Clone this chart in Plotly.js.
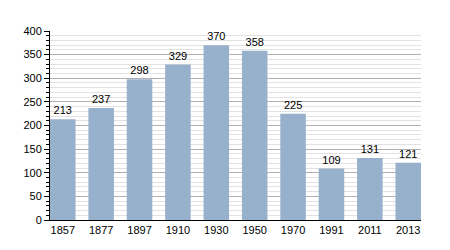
<!DOCTYPE html>
<html><head><meta charset="utf-8">
<script src="https://cdn.plot.ly/plotly-3.0.1.min.js"></script>
<style>html,body{margin:0;padding:0;background:#fff}</style>
</head><body><div id="chart" style="width:450px;height:250px"></div>
<script>
const years = ["1857","1877","1897","1910","1930","1950","1970","1991","2011","2013"];
const population = [213,237,298,329,370,358,225,109,131,121];

Plotly.newPlot('chart', [{
  type: 'bar',
  x: years,
  y: population,
  text: population.map(String),
  textposition: 'outside',
  textfont: {family: 'Liberation Sans, Arial, sans-serif', size: 11, color: '#000'},
  cliponaxis: false,
  marker: {color: '#97b0cc'},
  hoverinfo: 'none'
}], {
  width: 450, height: 250,
  margin: {l: 50, r: 29, t: 31, b: 30},
  paper_bgcolor: '#fff', plot_bgcolor: '#fff',
  bargap: 0.335,
  showlegend: false,
  font: {family: 'Liberation Sans, Arial, sans-serif', size: 11, color: '#000'},
  xaxis: {
    type: 'category',
    range: [-0.333, 9.333],
    showline: true, linecolor: '#000', linewidth: 1,
    ticks: '', showgrid: false,
    tickfont: {size: 11}
  },
  yaxis: {
    range: [0, 400], dtick: 50,
    showline: true, linecolor: '#000', linewidth: 1,
    ticks: 'outside', ticklen: 5, tickcolor: '#000',
    gridcolor: '#b0b0b0', gridwidth: 1,
    zeroline: false,
    tickfont: {size: 11},
    minor: {dtick: 10, showgrid: true, gridcolor: '#e2e2e2', ticks: 'outside', ticklen: 3, tickcolor: '#000'}
  }
}, {displayModeBar: false, staticPlot: true});
</script></body></html>
